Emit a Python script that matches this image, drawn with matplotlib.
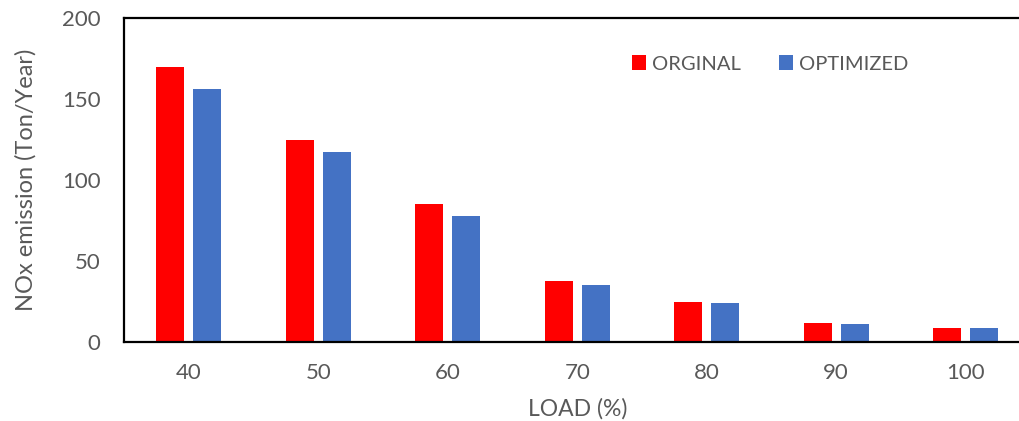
import matplotlib.pyplot as plt
import numpy as np

# data
loads = ["40", "50", "60", "70", "80", "90", "100"]
orginal = [170, 125, 85, 37.7, 24.5, 11.6, 8.9]
optimized = [156, 117, 78, 34.9, 24.1, 11.1, 8.9]

plt.rcParams['font.family'] = ['Lato', 'DejaVu Sans']
grey = '#595959'

fig = plt.figure(figsize=(10.2, 4.21), dpi=100)
# axes runs past the right edge of the figure, like the cropped original
ax = fig.add_axes([124/1020, 79/421, 906.5/1020, 324/421])

x = np.arange(len(loads))
w = 0.216
ax.bar(x - 0.143, orginal, w, color='#FF0000', label='ORGINAL')
ax.bar(x + 0.143, optimized, w, color='#4472C4', label='OPTIMIZED')

ax.set_xlim(-0.5, len(loads) - 0.5)
ax.set_ylim(0, 200)
ax.set_yticks([0, 50, 100, 150, 200])
ax.set_xticks(x)
ax.set_xticklabels(loads)

ax.tick_params(axis='both', length=0, labelsize=16, colors=grey)
ax.tick_params(axis='y', pad=17)
ax.tick_params(axis='x', pad=15)
for s in ['left', 'top', 'bottom']:
    ax.spines[s].set_linewidth(1.6)
    ax.spines[s].set_color('black')
ax.spines['right'].set_visible(False)

ax.set_xlabel('LOAD (%)', fontsize=16.5, color=grey, labelpad=11)
ax.set_ylabel('NOx emission (Ton/Year)', fontsize=17, color=grey, labelpad=18)

ax.legend(loc='center left', bbox_to_anchor=(632/1020, 1 - 64/421),
          bbox_transform=fig.transFigure, ncol=2, frameon=False,
          borderpad=0, borderaxespad=0,
          fontsize=14.5, handlelength=0.7, handleheight=0.7,
          handletextpad=0.3, columnspacing=1.9, labelcolor=grey)

fig.savefig('out.png', dpi=100)
